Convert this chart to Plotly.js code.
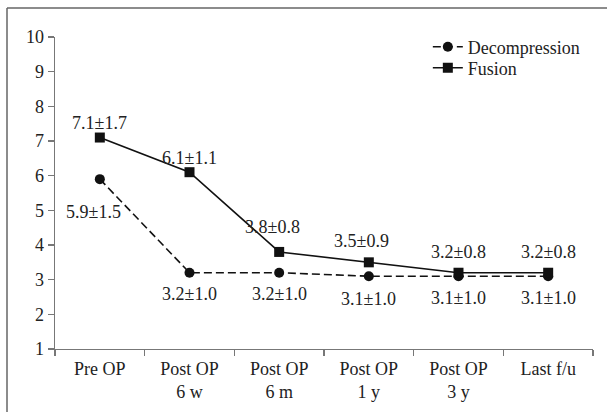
<!DOCTYPE html>
<html>
<head>
<meta charset="utf-8">
<script src="https://cdn.plot.ly/plotly-3.0.1.min.js"></script>
<style>html,body{margin:0;padding:0;background:#fff;}#chart{width:607px;height:412px;}</style>
</head>
<body>
<div id="chart"></div>
<script>
const categories = ["Pre OP", "Post OP<br>6 w", "Post OP<br>6 m", "Post OP<br>1 y", "Post OP<br>3 y", "Last f/u"];
const decompression = [5.9, 3.2, 3.2, 3.1, 3.1, 3.1];
const fusion = [7.1, 6.1, 3.8, 3.5, 3.2, 3.2];
const decompressionLabels = ["5.9±1.5", "3.2±1.0", "3.2±1.0", "3.1±1.0", "3.1±1.0", "3.1±1.0"];
const fusionLabels = ["7.1±1.7", "6.1±1.1", "3.8±0.8", "3.5±0.9", "3.2±0.8", "3.2±0.8"];
const yTicks = [1, 2, 3, 4, 5, 6, 7, 8, 9, 10];

// label offsets (pixels) – styling only
const decOff = [[-6, -33], [0, -21], [0, -21], [0, -23], [0, -22], [0, -22]];
const fusOff = [[0, 15], [0, 14], [-7, 25], [-7, 21], [0, 21], [0, 21]];

const FONT = "Liberation Serif";
const FS = 18;
const TXT = "#222";

const traces = [
  {
    x: categories, y: decompression, name: "Decompression", type: "scatter", mode: "lines+markers",
    line: {color: "#111", width: 1.6, dash: "8px,4px"},
    marker: {symbol: "circle", size: 10, color: "#111"},
    legend: "legend"
  },
  {
    x: categories, y: fusion, name: "Fusion", type: "scatter", mode: "lines+markers",
    line: {color: "#111", width: 1.6},
    marker: {symbol: "square", size: 10, color: "#111"},
    legend: "legend2"
  }
];

const annotations = [];
categories.forEach((c, i) => {
  annotations.push({x: c, y: fusion[i], text: fusionLabels[i], showarrow: false,
    xshift: fusOff[i][0], yshift: fusOff[i][1], font: {family: FONT, size: FS, color: TXT}});
  annotations.push({x: c, y: decompression[i], text: decompressionLabels[i], showarrow: false,
    xshift: decOff[i][0], yshift: decOff[i][1], font: {family: FONT, size: FS, color: TXT}});
});

const legendBase = {xanchor: "left", yanchor: "middle", bgcolor: "rgba(0,0,0,0)",
  font: {family: FONT, size: FS, color: TXT}};

const layout = {
  width: 607, height: 412,
  margin: {l: 55, r: 14, t: 37, b: 63},
  paper_bgcolor: "#fff", plot_bgcolor: "#fff",
  font: {family: FONT, size: FS, color: TXT},
  showlegend: true,
  legend: Object.assign({x: 0.693, y: (349 - 47) / 312}, legendBase),
  legend2: Object.assign({x: 0.693, y: (349 - 68) / 312}, legendBase),
  xaxis: {
    type: "category", range: [-0.5, 5.5], tickson: "boundaries",
    ticks: "outside", ticklen: 6, tickcolor: "#777", tickwidth: 1.3,
    showline: true, linecolor: "#777", linewidth: 1.3,
    showgrid: false, zeroline: false, fixedrange: true, ticklabelstandoff: 3,
    tickfont: {family: FONT, size: FS, color: TXT}
  },
  yaxis: {
    range: [1, 10], tickvals: yTicks, ticktext: yTicks.map(String),
    ticks: "outside", ticklen: 6, tickcolor: "#777", tickwidth: 1.3,
    showline: true, linecolor: "#777", linewidth: 1.3,
    showgrid: false, zeroline: false, fixedrange: true,
    tickfont: {family: FONT, size: FS, color: TXT}
  },
  annotations: annotations,
  shapes: [
    {type: "line", xref: "paper", yref: "paper", x0: -48/538, x1: -48/538, y0: 1 + 29/312, y1: -63/312,
      line: {color: "#666", width: 1.5}},
    {type: "line", xref: "paper", yref: "paper", x0: -48/538, x1: 1 + 14/538, y0: 1 + 29/312, y1: 1 + 29/312,
      line: {color: "#666", width: 1.5}}
  ]
};

Plotly.newPlot("chart", traces, layout, {displayModeBar: false, staticPlot: true});
</script>
</body>
</html>
